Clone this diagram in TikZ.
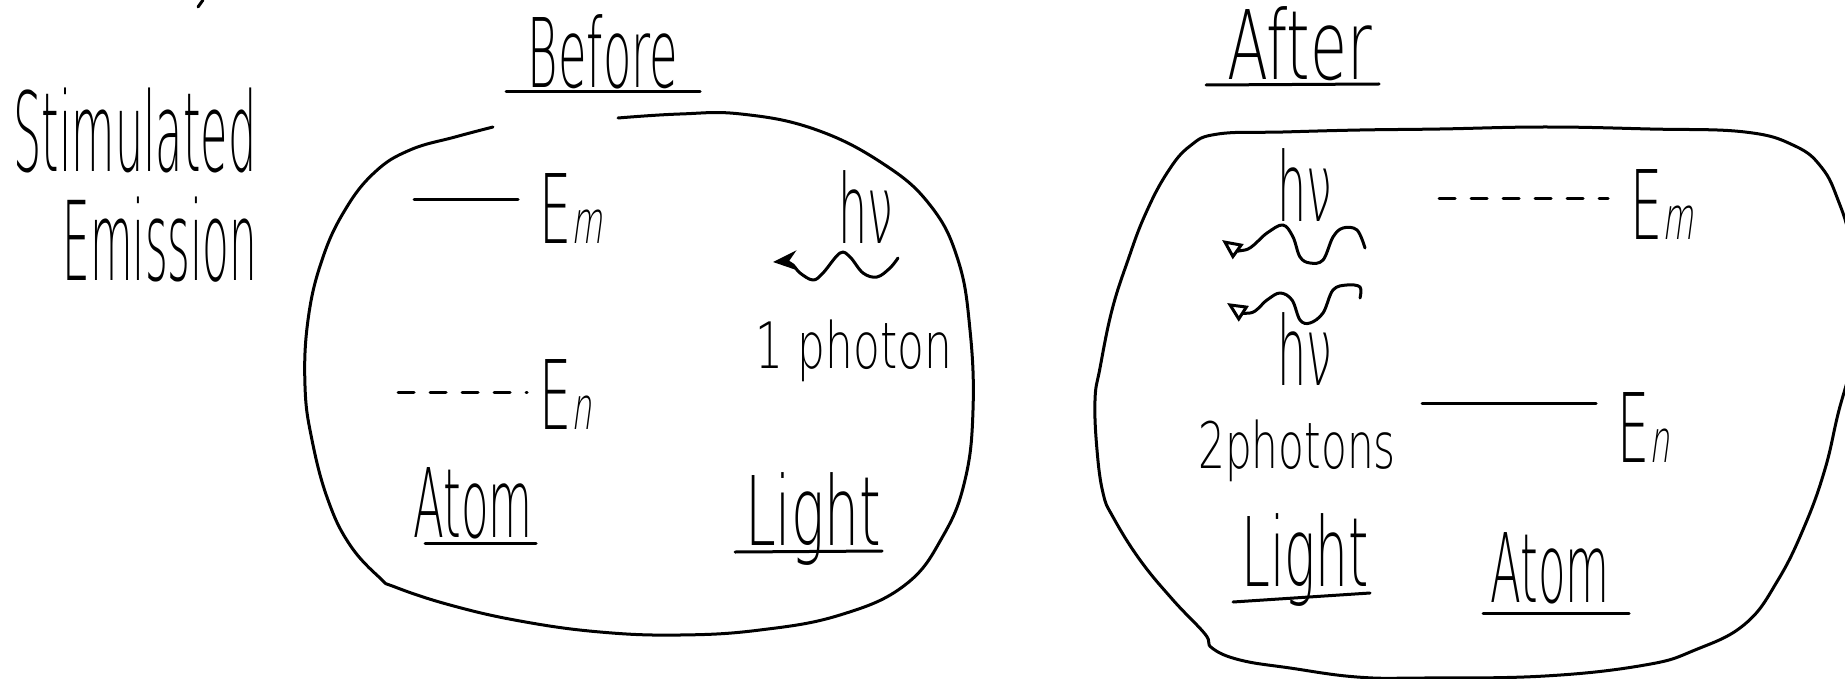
\documentclass[tikz,border=0pt]{standalone}
\usepackage{fontspec}
\newfontfamily\handfont{DejaVu Sans ExtraLight}
\newfontfamily\handslant{DejaVu Sans ExtraLight}[FakeSlant=0.25]
\usetikzlibrary{arrows.meta}

\newcommand{\handbig}{\fontsize{48}{52}\selectfont}
\newcommand{\handhuge}{\fontsize{55}{60}\selectfont}
\newcommand{\handsmall}{\fontsize{32}{36}\selectfont}
\newcommand{\lvlsub}[1]{{\handslant\fontsize{30}{30}\selectfont #1}}
\newcommand{\hnu}{hν}

\begin{document}
\begin{tikzpicture}[x=0.5pt, y=-0.5pt, line width=1.5pt, line cap=round, line join=round,
    hand/.style={font=\handfont\handbig, inner sep=0pt, anchor=base, xscale=#1},
    hand/.default=0.47,
    handsm/.style={font=\handfont\handsmall, inner sep=0pt, anchor=base, xscale=#1},
    handsm/.default=0.67,
    photon/.style={line width=1.5pt},
    lvldash/.style={dash pattern=on 8pt off 8pt}]

  \useasboundingbox (0,0) rectangle (1845,679);
  \clip (0,0) rectangle (1845,679);

  % ---- stray stroke ----
  \draw (203,0) -- (198,7);

  % ---- title ----
  \node[hand=0.405, font=\handfont\handhuge] (stim) at (135,172) {Stimulated};
  \node[hand=0.398, font=\handfont\handhuge] (emis) at (160,280) {Emission};

  % ---- before: outline ----
  \draw plot[smooth, tension=0.7]
    coordinates {(618,118) (680,114) (741,114) (814,129) (882,163) (930,205) (958,260)
      (970,330) (973,410) (965,480) (943,536) (905,585) (840,615) (760,630) (680,635)
      (600,632) (520,621) (450,605) (395,587) (380,578) (350,545) (328,500) (312,440)
      (305,386) (308,320) (322,260) (345,210) (375,172) (410,150) (455,137) (493,127)};

  % ---- before: labels ----
  \node[hand=0.484] (bef) at (603,88) {Before};
  \draw (506,92) -- (700,92);
  \node[hand=0.53, anchor=base west] (emB) at (539,243) {E\lvlsub{m}};
  \draw (414,200) -- (518,200);
  \node[hand=0.53, anchor=base west] (enB) at (539,429) {E\lvlsub{n}};
  \draw[lvldash] (398,392) -- (527,392);
  \node[hand] (atomB) at (473,537) {Atom};
  \draw (425,543) -- (536,543);
  \node[hand=0.575] (lightB) at (813,545) {Light};
  \draw (735,552) -- (882,551);
  \node[hand=0.48] (hvB) at (866,243) {\hnu};
  \node[handsm=0.685] (oneph) at (854,368) {1 photon};

  % ---- before: photon ----
  \draw[photon, {Stealth[length=12pt, width=10pt]}-] plot[smooth, tension=0.6]
    coordinates {(773,262) (790,263) (800,273) (813,280) (823,273) (840,253) (850,257)
      (863,273) (877,277) (890,268) (898,258)};

  % ---- after: outline ----
  \draw plot[smooth cycle, tension=0.7]
    coordinates {(1218,134) (1283,132) (1360,130) (1440,129) (1545,127) (1650,129)
      (1745,132) (1795,146) (1822,168) (1838,200) (1850,240) (1858,300) (1852,360)
      (1838,414) (1825,469) (1805,525) (1778,580) (1745,624) (1695,650) (1645,665)
      (1545,676) (1423,678) (1357,677) (1290,668) (1240,660) (1212,648) (1205,634)
      (1173,600) (1140,560) (1113,517) (1103,493) (1097,450) (1095,400) (1100,368)
      (1112,310) (1128,260) (1145,215) (1167,173) (1190,146)};

  % ---- after: labels ----
  \node[hand=0.625] (aft) at (1300,80) {After};
  \draw (1206,85) -- (1379,84);
  \node[hand=0.48] (hvA1) at (1305,221) {\hnu};
  \node[hand=0.48] (hvA2) at (1305,385) {\hnu};
  \node[handsm=0.66] (twoph) at (1297,468) {2photons};
  \node[hand=0.53, anchor=base west] (emA) at (1630,240) {E\lvlsub{m}};
  \draw[lvldash] (1439,199) -- (1608,199);
  \node[hand=0.53, anchor=base west] (enA) at (1617,462) {E\lvlsub{n}};
  \draw (1422,403) -- (1596,403);
  \node[hand=0.54] (lightA) at (1305,586) {Light};
  \draw (1233,602) -- (1370,593);
  \node[hand] (atomA) at (1550,602) {Atom};
  \draw (1483,613) -- (1629,613);

  % ---- after: photons ----
  \draw[photon, {Triangle[open, length=10pt, width=9pt]}-] plot[smooth, tension=0.6]
    coordinates {(1222,240) (1245,250) (1267,233) (1283,225) (1293,237) (1300,257)
      (1310,263) (1323,260) (1333,237) (1343,228) (1357,230) (1365,248)};
  \draw[photon, {Triangle[open, length=10pt, width=9pt]}-] plot[smooth, tension=0.6]
    coordinates {(1227,303) (1250,313) (1267,300) (1280,293) (1292,300) (1300,320)
      (1310,323) (1323,313) (1333,290) (1347,285) (1360,287) (1360,298)};

\end{tikzpicture}
\end{document}
